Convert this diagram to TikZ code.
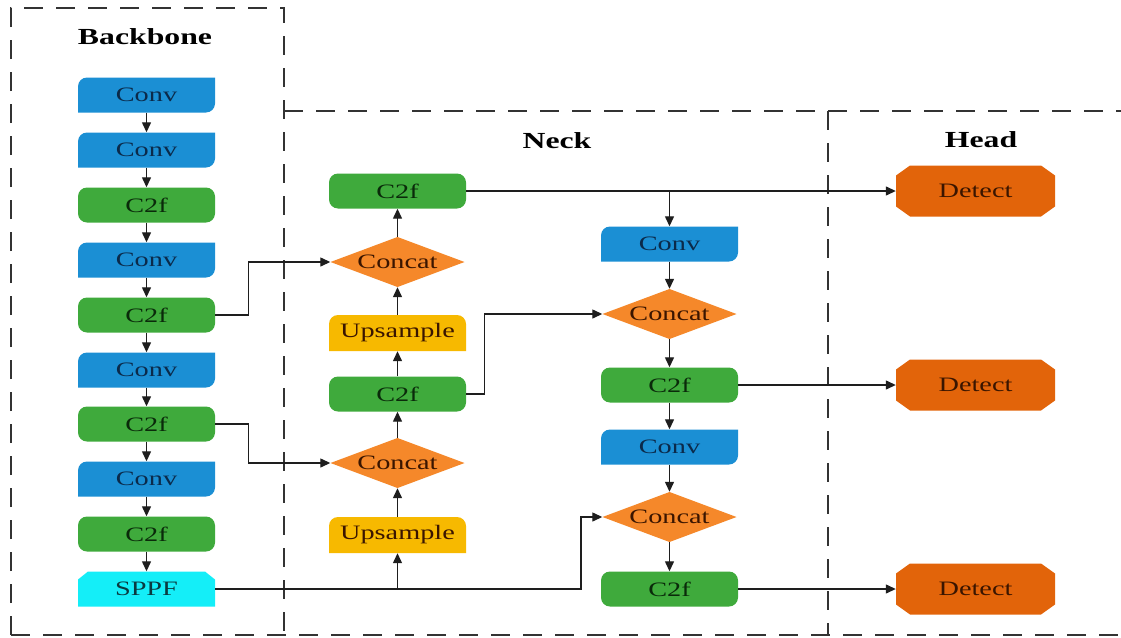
\documentclass[tikz,border=0pt]{standalone}
\usepackage{fontspec}
\setmainfont{Liberation Serif}[FakeStretch=1.38]
\usetikzlibrary{arrows.meta}

\definecolor{convc}{HTML}{1B8FD4}
\definecolor{c2fc}{HTML}{3FAA3C}
\definecolor{catc}{HTML}{F5882A}
\definecolor{upc}{HTML}{F7B900}
\definecolor{sppfc}{HTML}{14EEF8}
\definecolor{detc}{HTML}{E2640A}
\definecolor{convtext}{HTML}{0B2A4A}
\definecolor{greentext}{HTML}{0A2A0A}
\definecolor{browntext}{HTML}{3A1500}
\definecolor{tealtext}{HTML}{0A3A40}
\definecolor{bordergray}{HTML}{333333}
\definecolor{linegray}{HTML}{1E1E1E}

\newcommand{\boxfont}{\fontsize{20.5}{23}\selectfont}
\newcommand{\headfont}{\fontsize{23}{25}\selectfont\bfseries}

\tikzset{
  blk/.style={minimum width=137pt, minimum height=35pt, inner sep=0pt,
    font=\boxfont, fill=white},
  convbox/.style={blk, text=convtext, path picture={
    \fill[convc] (path picture bounding box.south west)
      -- ([yshift=-9pt]path picture bounding box.north west)
      arc[start angle=180, end angle=90, radius=9pt]
      -- (path picture bounding box.north east)
      -- ([yshift=9pt]path picture bounding box.south east)
      arc[start angle=0, end angle=-90, radius=9pt] -- cycle;}},
  c2fbox/.style={blk, text=greentext, fill=c2fc, rounded corners=9pt},
  upbox/.style={blk, minimum height=36pt, text=browntext, path picture={
    \fill[upc] (path picture bounding box.south west)
      -- ([yshift=-9pt]path picture bounding box.north west)
      arc[start angle=180, end angle=90, radius=9pt]
      -- ([xshift=-9pt]path picture bounding box.north east)
      arc[start angle=90, end angle=0, radius=9pt]
      -- (path picture bounding box.south east) -- cycle;}},
  sppfbox/.style={blk, text=tealtext, path picture={
    \fill[sppfc] (path picture bounding box.south west)
      -- ([yshift=-8pt]path picture bounding box.north west)
      -- ([xshift=10pt]path picture bounding box.north west)
      -- ([xshift=-10pt]path picture bounding box.north east)
      -- ([yshift=-8pt]path picture bounding box.north east)
      -- (path picture bounding box.south east) -- cycle;}},
  catbox/.style={blk, minimum width=134pt, minimum height=50pt, text=browntext,
    path picture={
    \fill[catc] (path picture bounding box.west)
      -- (path picture bounding box.north)
      -- (path picture bounding box.east)
      -- (path picture bounding box.south) -- cycle;}},
  detbox/.style={blk, minimum width=159pt, minimum height=51pt, text=browntext,
    path picture={
    \fill[detc] ([yshift=10pt]path picture bounding box.south west)
      -- ([yshift=-10pt]path picture bounding box.north west)
      -- ([xshift=14pt]path picture bounding box.north west)
      -- ([xshift=-14pt]path picture bounding box.north east)
      -- ([yshift=-10pt]path picture bounding box.north east)
      -- ([yshift=10pt]path picture bounding box.south east)
      -- ([xshift=-14pt]path picture bounding box.south east)
      -- ([xshift=14pt]path picture bounding box.south west) -- cycle;}},
  header/.style={font=\headfont, text=black, inner sep=0pt},
  border/.style={draw=bordergray, line width=1.8pt, dash pattern=on 19pt off 13pt},
  conn/.style={draw=linegray, line width=1.3pt,
    -{Triangle[length=10pt, width=9pt]}},
}

\begin{document}
\begin{tikzpicture}[x=1pt, y=1pt]
\useasboundingbox (0,0) rectangle (1121,-637);

% section frames
\draw[border] (11,-635) -- (11,-8) -- (284,-8) -- (284,-635);
\draw[border] (284,-111) -- (1121,-111);
\draw[border] (828,-111) -- (828,-635);
\draw[border] (11,-635) -- (1121,-635);

% section titles
\node[header] (hb) at (145,-37) {Backbone};
\node[header] (hn) at (557,-141) {Neck};
\node[header] (hh) at (981,-140) {Head};

% backbone
\node[convbox] (b1) at (146.5,-95) {Conv};
\node[convbox] (b2) at (146.5,-150) {Conv};
\node[c2fbox]  (b3) at (146.5,-205) {C2f};
\node[convbox] (b4) at (146.5,-260) {Conv};
\node[c2fbox]  (b5) at (146.5,-315) {C2f};
\node[convbox] (b6) at (146.5,-370) {Conv};
\node[c2fbox]  (b7) at (146.5,-424) {C2f};
\node[convbox] (b8) at (146.5,-479) {Conv};
\node[c2fbox]  (b9) at (146.5,-534) {C2f};
\node[sppfbox] (b10) at (146.5,-589) {SPPF};

% neck, top-down path
\node[c2fbox]  (n1) at (397.5,-191) {C2f};
\node[catbox]  (n2) at (397.5,-262) {Concat};
\node[upbox]   (n3) at (397.5,-333) {Upsample};
\node[c2fbox]  (n4) at (397.5,-394) {C2f};
\node[catbox]  (n5) at (397.5,-463) {Concat};
\node[upbox]   (n6) at (397.5,-535) {Upsample};

% neck, bottom-up path
\node[convbox] (r1) at (669.5,-244) {Conv};
\node[catbox]  (r2) at (669.5,-314) {Concat};
\node[c2fbox]  (r3) at (669.5,-385) {C2f};
\node[convbox] (r4) at (669.5,-447) {Conv};
\node[catbox]  (r5) at (669.5,-517) {Concat};
\node[c2fbox]  (r6) at (669.5,-589) {C2f};

% head
\node[detbox] (d1) at (975.5,-191) {Detect};
\node[detbox] (d2) at (975.5,-385) {Detect};
\node[detbox] (d3) at (975.5,-589) {Detect};

% backbone chain
\foreach \a/\b in {b1/b2,b2/b3,b3/b4,b4/b5,b5/b6,b6/b7,b7/b8,b8/b9,b9/b10}
  \draw[conn] (\a.south) -- (\b.north);

% backbone to neck
\draw[conn] (b5.east) -- ++(33,0) |- (n2.west);
\draw[conn] (b7.east) -- ++(33,0) |- (n5.west);
\coordinate (sppfturn) at (581,-589);
\draw[conn] (b10.east) -| (n6.south);
\draw[conn] (b10.east) -- (sppfturn) |- (r5.west);

% top-down path
\draw[conn] (n6.north) -- (n5.south);
\draw[conn] (n5.north) -- (n4.south);
\draw[conn] (n4.north) -- (n3.south);
\draw[conn] (n3.north) -- (n2.south);
\draw[conn] (n2.north) -- (n1.south);
\draw[conn] (n4.east) -- ++(18,0) |- (r2.west);

% bottom-up path
\draw[conn] (n1.east) -- (d1.west);
\draw[conn] (n1.east -| r1.north) -- (r1.north);
\draw[conn] (r1.south) -- (r2.north);
\draw[conn] (r2.south) -- (r3.north);
\draw[conn] (r3.south) -- (r4.north);
\draw[conn] (r4.south) -- (r5.north);
\draw[conn] (r5.south) -- (r6.north);
\draw[conn] (r3.east) -- (d2.west);
\draw[conn] (r6.east) -- (d3.west);
\end{tikzpicture}
\end{document}
